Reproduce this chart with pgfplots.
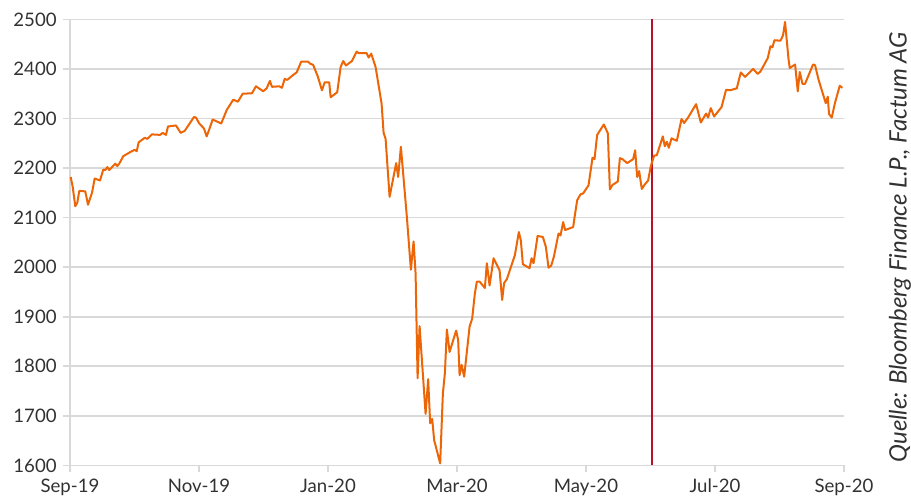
\documentclass[border=0pt]{standalone}
\usepackage{pgfplots}
\pgfplotsset{compat=1.18}
\usepackage{fontspec}
\setmainfont{Lato}
\definecolor{lineorange}{RGB}{236,102,8}
\definecolor{markred}{RGB}{180,18,40}
\definecolor{gridgray}{RGB}{217,217,217}
\definecolor{labelgray}{RGB}{50,50,50}

\begin{document}
\begin{tikzpicture}
\fontsize{9}{11}\selectfont
\begin{axis}[
    scale only axis,
    width=387pt,
    height=223pt,
    xmin=0, xmax=12,
    ymin=1600, ymax=2500,
    xtick={0,2,4,6,8,10,12},
    xticklabels={Sep-19,Nov-19,Jan-20,Mar-20,May-20,Jul-20,Sep-20},
    ytick={1600,1700,...,2500},
    axis x line*=bottom,
    axis y line*=left,
    axis line style={gridgray, line width=0.8pt, -},
    ymajorgrids,
    grid style={gridgray, line width=0.8pt},
    tick style={gridgray, line width=0.8pt},
    tick align=outside,
    major tick length=3.5pt,
    ticklabel style={font=\fontsize{9.3}{11}\selectfont, text=labelgray},
    /pgf/number format/assume math mode=true,
    /pgf/number format/1000 sep={},
    clip=false,
]
% red marker line
\addplot[markred, line width=1pt] coordinates {(9.02,1600) (9.02,2500)};
% index series
\addplot[lineorange, line width=1pt, line join=round] coordinates {
(0.011,2182) (0.042,2162) (0.082,2123) (0.113,2130) (0.144,2154) (0.237,2153)
(0.279,2126) (0.341,2150) (0.383,2179) (0.465,2175) (0.516,2197) (0.547,2196)
(0.578,2202) (0.609,2196) (0.702,2209) (0.733,2204) (0.764,2209) (0.826,2224)
(0.930,2232) (1.003,2237) (1.034,2234) (1.065,2252) (1.158,2261) (1.198,2259)
(1.271,2268) (1.395,2267) (1.437,2271) (1.488,2267) (1.519,2284) (1.643,2286)
(1.716,2271) (1.778,2275) (1.922,2303) (1.953,2302) (2.004,2290) (2.077,2280)
(2.119,2264) (2.159,2278) (2.212,2298) (2.345,2290) (2.429,2317) (2.531,2338)
(2.604,2334) (2.677,2350) (2.821,2351) (2.883,2365) (2.996,2355) (3.049,2361)
(3.100,2376) (3.131,2364) (3.244,2365) (3.286,2362) (3.328,2380) (3.368,2378)
(3.461,2388) (3.514,2393) (3.585,2415) (3.689,2415) (3.720,2411) (3.771,2408)
(3.844,2384) (3.906,2357) (3.948,2373) (4.019,2373) (4.041,2343) (4.143,2353)
(4.196,2404) (4.236,2416) (4.278,2407) (4.371,2416) (4.444,2435) (4.475,2432)
(4.599,2432) (4.630,2423) (4.670,2431) (4.738,2404) (4.831,2330) (4.862,2271)
(4.893,2259) (4.955,2142) (5.057,2210) (5.088,2182) (5.130,2243) (5.223,2101)
(5.285,1995) (5.327,2052) (5.358,1987) (5.389,1776) (5.420,1881) (5.513,1704)
(5.553,1774) (5.584,1685) (5.615,1694) (5.646,1651) (5.739,1604) (5.781,1745)
(5.812,1786) (5.843,1874) (5.885,1829) (5.987,1872) (6.018,1853) (6.040,1782)
(6.071,1803) (6.111,1779) (6.195,1880) (6.235,1896) (6.277,1947) (6.308,1971)
(6.350,1971) (6.432,1958) (6.463,2008) (6.505,1963) (6.567,2018) (6.660,1994)
(6.700,1934) (6.731,1968) (6.773,1976) (6.897,2024) (6.959,2071) (6.990,2054)
(7.021,2006) (7.125,1998) (7.156,2018) (7.187,2008) (7.249,2063) (7.331,2061)
(7.378,2041) (7.419,1999) (7.460,2003) (7.502,2021) (7.574,2068) (7.605,2064)
(7.646,2091) (7.677,2075) (7.801,2081) (7.823,2101) (7.863,2135) (7.915,2147)
(7.956,2149) (8.039,2165) (8.101,2221) (8.132,2218) (8.173,2267) (8.277,2288)
(8.339,2270) (8.370,2157) (8.411,2166) (8.494,2173) (8.525,2220) (8.566,2218)
(8.638,2210) (8.731,2218) (8.762,2236) (8.793,2182) (8.824,2194) (8.865,2158)
(8.912,2167) (8.963,2175) (9.005,2204) (9.056,2225) (9.098,2226) (9.191,2264)
(9.222,2244) (9.253,2253) (9.284,2241) (9.326,2260) (9.408,2255) (9.481,2299)
(9.521,2291) (9.583,2302) (9.707,2329) (9.780,2292) (9.862,2310) (9.893,2302)
(9.935,2321) (9.986,2304) (10.101,2323) (10.172,2358) (10.234,2357) (10.338,2361)
(10.400,2393) (10.467,2384) (10.591,2400) (10.663,2390) (10.705,2395) (10.818,2422)
(10.860,2446) (10.891,2444) (10.922,2458) (11.015,2457) (11.055,2468) (11.086,2495)
(11.139,2421) (11.159,2402) (11.242,2409) (11.283,2355) (11.314,2394) (11.356,2370)
(11.396,2370) (11.520,2409) (11.551,2408) (11.604,2379) (11.717,2331) (11.748,2344)
(11.768,2309) (11.810,2302) (11.861,2332) (11.934,2366) (11.976,2362)
};
\end{axis}
\node[rotate=90, text=labelgray, font=\fontsize{12}{14}\selectfont\itshape]
    at (415pt,109pt) {Quelle: Bloomberg Finance L.P., Factum AG};
\pgfresetboundingbox
\path[use as bounding box] (-35pt,-17.3pt) rectangle (420.5pt,232.7pt);
\end{tikzpicture}
\end{document}
